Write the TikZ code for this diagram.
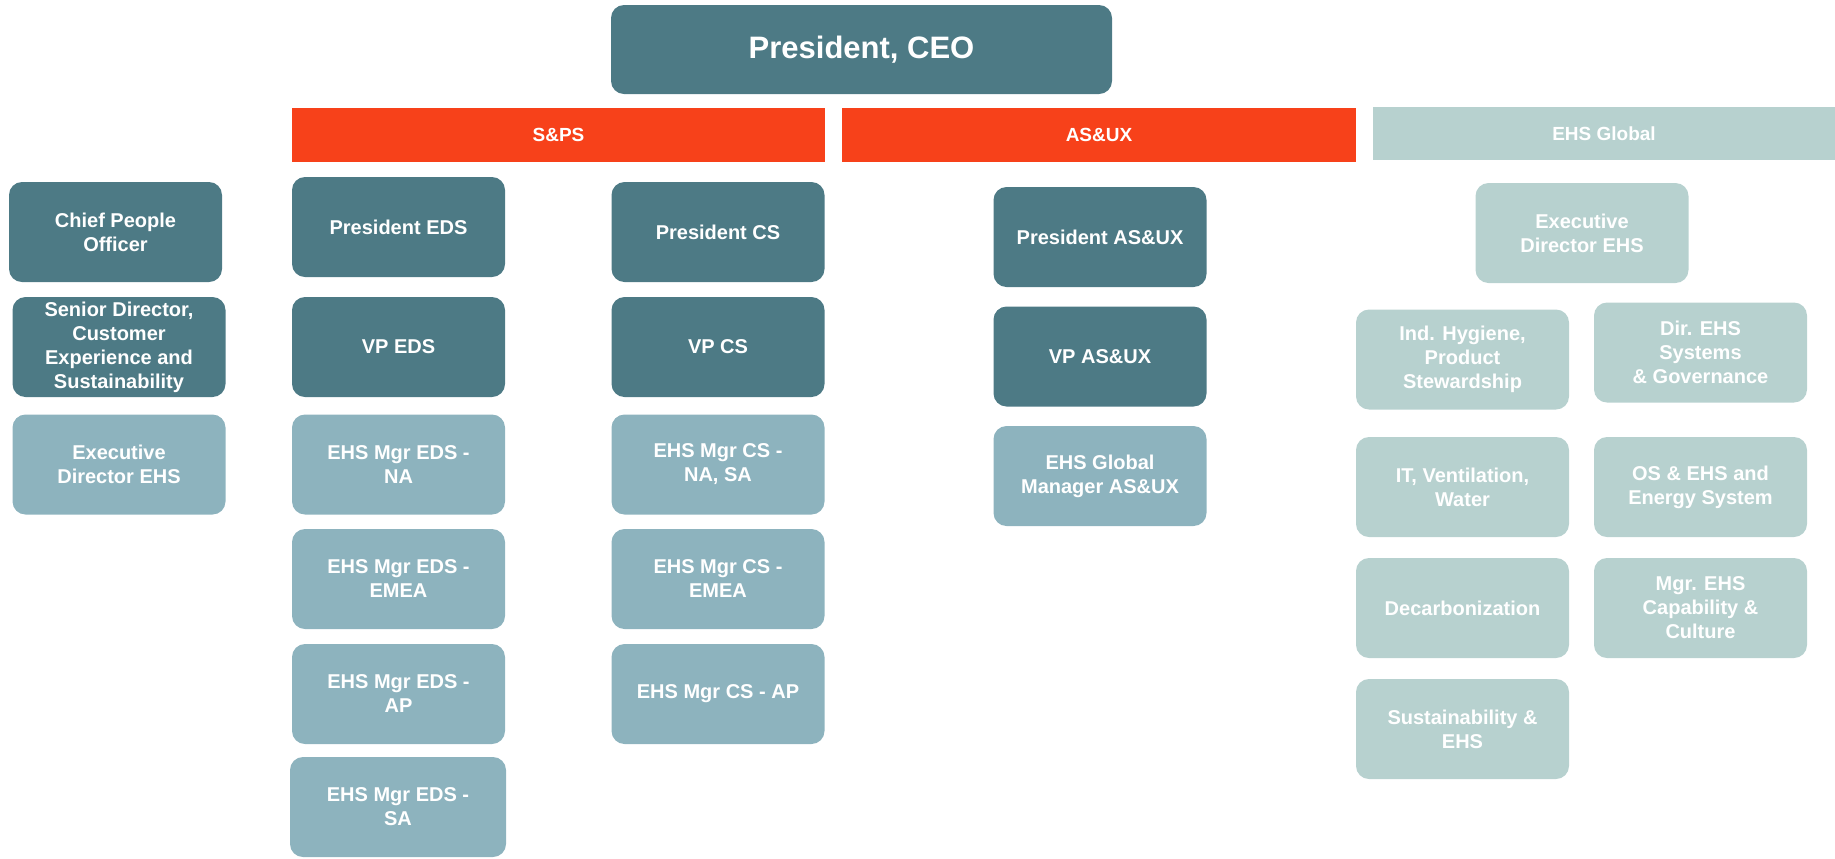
\documentclass[tikz,border=0pt]{standalone}
\usepackage{fontspec}
\setmainfont{Liberation Sans}
\usepackage{tikz}
\usetikzlibrary{positioning}
\definecolor{darkteal}{RGB}{77,122,133}
\definecolor{midteal}{RGB}{141,179,190}
\definecolor{paleteal}{RGB}{183,209,207}
\definecolor{flame}{RGB}{247,65,26}
\tikzset{
unitbox/.style={rounded corners=6.5pt,inner sep=2pt,align=center,text=white,
    font=\fontsize{10}{12}\selectfont\bfseries,minimum width=106.5pt,minimum height=50pt},
lead/.style={unitbox,fill=darkteal},
mgr/.style={unitbox,fill=midteal},
glob/.style={unitbox,fill=paleteal},
bar/.style={fill=#1,text=white,inner sep=0pt,font=\fontsize{9.5}{11}\selectfont\bfseries,minimum height=27pt},
}
\tikzstyle{every node}=[font=\footnotesize]

\begin{document}
\begin{tikzpicture}[x=0.5pt,y=-0.5pt]
    \useasboundingbox (0,0) rectangle (1835,858);
    \node[lead, minimum width=250.5pt, minimum height=44.5pt,
        font=\fontsize{15.5}{18}\selectfont\bfseries] (ceo) at (861.5,49.5) {President, CEO};

    % business bars
    \node[bar=flame, minimum width=266.5pt] (sps) at (558.5,135) {S\&PS};
    \node[bar=flame, minimum width=257pt] (asux) at (1099,135) {AS\&UX};
    \node[bar=paleteal, minimum width=231pt, minimum height=26.5pt] (ehsg) at (1604,133.5) {EHS Global};

    % corporate
    \node[lead] (cpo) at (115.5,232) {Chief People\\Officer};
    \node[lead] (sdir) at (119,347) {Senior Director,\\Customer\\Experience and\\Sustainability};
    \node[mgr] (edLeft) at (119,464.5) {Executive\\Director EHS};

    % S&PS
    \node[lead] (presEDS) at (398.5,227) {President EDS};
    \node[lead] (vpEDS) at (398.5,347) {VP EDS};
    \node[mgr] (edsNA) at (398.5,464.5) {EHS Mgr EDS -\\NA};
    \node[mgr] (edsEMEA) at (398.5,579) {EHS Mgr EDS -\\EMEA};
    \node[mgr] (edsAP) at (398.5,694) {EHS Mgr EDS -\\AP};
    \node[mgr, minimum width=108pt] (edsSA) at (398,807) {EHS Mgr EDS -\\SA};

    \node[lead] (presCS) at (718,232) {President CS};
    \node[lead] (vpCS) at (718,347) {VP CS};
    \node[mgr] (csNA) at (718,464.5) {EHS Mgr CS -\\NA, SA};
    \node[mgr] (csEMEA) at (718,579) {EHS Mgr CS -\\EMEA};
    \node[mgr] (csAP) at (718,694) {EHS Mgr CS - AP};

    % AS&UX
    \node[lead] (presASUX) at (1100,237) {President AS\&UX};
    \node[lead] (vpASUX) at (1100,356.5) {VP AS\&UX};
    \node[mgr] (gmASUX) at (1100,476) {EHS Global\\Manager AS\&UX};

    % EHS Global
    \node[glob] (edRight) at (1582,233) {Executive\\Director EHS};
    \node[glob] (hyg) at (1462.5,359.5) {Ind. Hygiene,\\Product\\Stewardship};
    \node[glob] (sysgov) at (1700.5,352.5) {Dir. EHS\\Systems\\\& Governance};
    \node[glob] (itvw) at (1462.5,487) {IT, Ventilation,\\Water};
    \node[glob] (osenergy) at (1700.5,487) {OS \& EHS and\\Energy System};
    \node[glob] (decarb) at (1462.5,608) {Decarbonization};
    \node[glob] (culture) at (1700.5,608) {Mgr. EHS\\Capability \&\\Culture};
    \node[glob] (susehs) at (1462.5,729) {Sustainability \&\\EHS};
\end{tikzpicture}
\end{document}
